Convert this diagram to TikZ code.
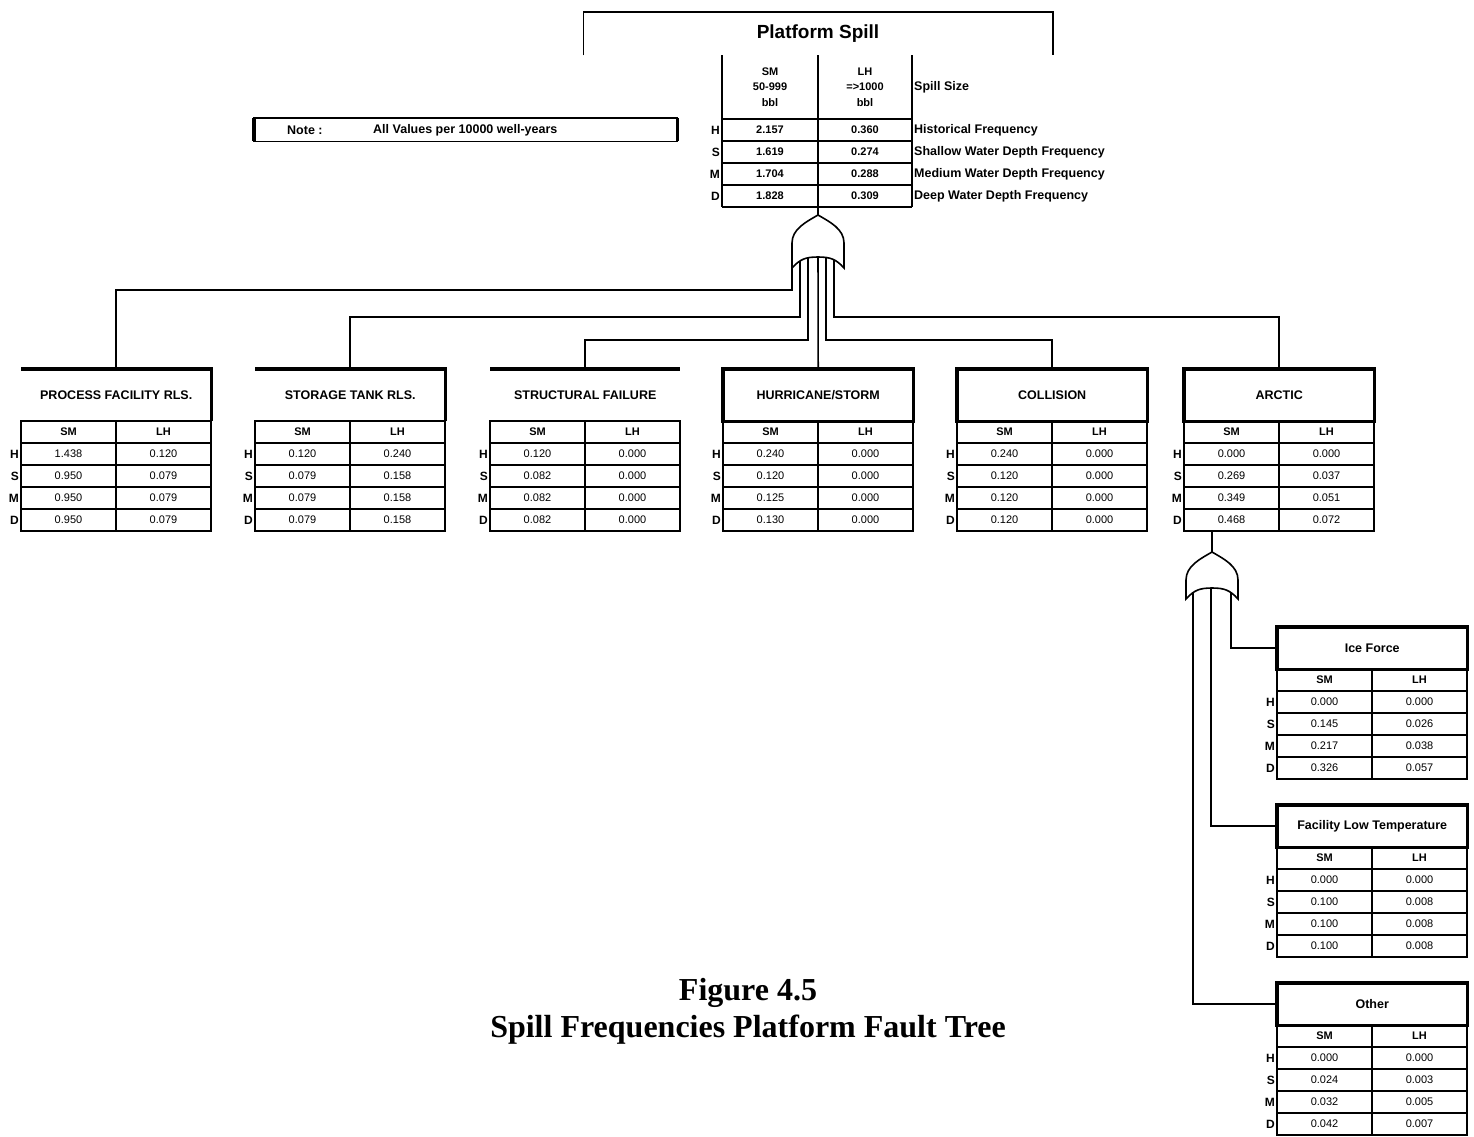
\documentclass[tikz,border=0pt]{standalone}
\usepackage{fontspec}
\setmainfont{Liberation Serif}
\setsansfont{Liberation Sans}
\usetikzlibrary{positioning}
\tikzset{
  wire/.style={line width=1.6pt},
  gridline/.style={line width=2.4pt},
  boxline/.style={line width=3.2pt},
  cellnum/.style={font=\sffamily\fontsize{11}{13}\selectfont, inner sep=0pt},
  cellhead/.style={font=\sffamily\bfseries\fontsize{11}{13}\selectfont, inner sep=0pt},
  rowlbl/.style={font=\sffamily\bfseries\fontsize{12}{14}\selectfont, inner sep=1pt, anchor=east},
  sidelbl/.style={font=\sffamily\bfseries\fontsize{12.5}{15}\selectfont, inner sep=1pt, anchor=west},
  evtitle/.style={
    font=\sffamily\bfseries\fontsize{12.5}{15}\selectfont,
    minimum width=190pt,
    minimum height=#1,
    inner sep=0pt,
    anchor=north west
  },
  evtitle/.default=52pt,
  roottitle/.style={
    font=\sffamily\bfseries\fontsize{19}{22}\selectfont,
    minimum width=469pt,
    minimum height=43pt,
    inner sep=0pt,
    anchor=north
  },
  caption/.style={font=\rmfamily\bfseries\fontsize{32}{37}\selectfont, align=center}
}
% frequency table: #1 name, #2 left x, #3 top y, #4 SM/LH pairs for H,S,M,D
\newcommand{\freqtable}[4]{
  \draw[gridline] (#2,#3) rectangle ++(190,110);
  \draw[gridline] (#2+95,#3) -- ++(0,110);
  \foreach \k in {1,...,4}
    \draw[gridline] (#2,#3+22*\k) -- ++(190,0);
  \node[cellhead] (#1-sm) at (#2+47.5,#3+11) {SM};
  \node[cellhead] (#1-lh) at (#2+142.5,#3+11) {LH};
  \foreach \lbl [count=\i] in {H,S,M,D}
    \node[rowlbl] (#1-\lbl) at (#2-1,#3+11+22*\i) {\lbl};
  \foreach \sm/\lh [count=\i] in {#4} {
    \node[cellnum] (#1-sm\i) at (#2+47.5,#3+11+22*\i) {\sm};
    \node[cellnum] (#1-lh\i) at (#2+142.5,#3+11+22*\i) {\lh};
  }
}
% OR gate: #1 name (top point), #2 top point, #3 side length
\newcommand{\orgate}[3]{
  \coordinate (#1) at (#2);
  \draw[wire, fill=white] (#1) .. controls +(-12,7) and +(0,-14) .. ++(-26,28)
    -- ++(0,#3) .. controls +(8,-9) and +(-12,0) .. ++(26,-11)
    .. controls +(12,0) and +(-8,-9) .. ++(26,11)
    -- ++(0,-#3) .. controls +(0,-14) and +(12,7) .. (#1) -- cycle;
}

\begin{document}
\begin{tikzpicture}[x=1pt,y=-1pt]
  \useasboundingbox (0,0) rectangle (1474,1136);

  % Top event
  \node[roottitle] (root) at (818,12) {Platform Spill};
  \draw[wire] (root.south west) -- (root.north west) -- (root.north east) -- (root.south east);
  \foreach \x in {722,818,912}
    \draw[gridline] (\x,55) -- (\x,207);
  \foreach \k in {0,...,4}
    \draw[gridline] (722,119+22*\k) -- (912,119+22*\k);
  \node[cellhead, align=center, font=\sffamily\bfseries\fontsize{11}{15.5}\selectfont]
    (root-sm) at (770,87) {SM\\50-999\\bbl};
  \node[cellhead, align=center, font=\sffamily\bfseries\fontsize{11}{15.5}\selectfont]
    (root-lh) at (865,87) {LH\\=>1000\\bbl};
  \node[sidelbl] (root-size) at (913,87) {Spill Size};
  \foreach \lbl/\sm/\lh/\txt [count=\i] in {
      H/2.157/0.360/Historical Frequency,
      S/1.619/0.274/Shallow Water Depth Frequency,
      M/1.704/0.288/Medium Water Depth Frequency,
      D/1.828/0.309/Deep Water Depth Frequency} {
    \node[rowlbl] (root-\lbl) at (721,108+22*\i) {\lbl};
    \node[cellhead] (root-sm\i) at (770,108+22*\i) {\sm};
    \node[cellhead] (root-lh\i) at (865,108+22*\i) {\lh};
    \node[sidelbl] (root-t\i) at (913,108+22*\i) {\txt};
  }
  \coordinate (root-out) at (818,207);

  % Note
  \node[minimum width=423pt, minimum height=23pt, inner sep=0pt, anchor=north west]
    (note) at (254,118) {};
  \draw[wire] (note.north west) rectangle (note.south east);
  \draw[boxline] (note.north west) -- (note.south west);
  \draw[boxline] (note.north east) -- (note.south east);
  \node[sidelbl] (note-l) at (286,130) {Note :};
  \node[sidelbl] (note-t) at (372,130) {All Values per 10000 well-years};

  % Events
  \node[evtitle] (proc) at (21,369) {PROCESS FACILITY RLS.};
  \draw[boxline] (proc.north west) -- (proc.north east) -- (proc.south east);
  \freqtable{proc}{21}{421}{1.438/0.120, 0.950/0.079, 0.950/0.079, 0.950/0.079}

  \node[evtitle] (sto) at (255,369) {STORAGE TANK RLS.};
  \draw[boxline] (sto.north west) -- (sto.north east) -- (sto.south east);
  \freqtable{sto}{255}{421}{0.120/0.240, 0.079/0.158, 0.079/0.158, 0.079/0.158}

  \node[evtitle] (str) at (490,369) {STRUCTURAL FAILURE};
  \draw[boxline] (str.north west) -- (str.north east);
  \freqtable{str}{490}{421}{0.120/0.000, 0.082/0.000, 0.082/0.000, 0.082/0.000}

  \node[evtitle] (hur) at (723,369) {HURRICANE/STORM};
  \draw[boxline] (hur.north west) rectangle (hur.south east);
  \freqtable{hur}{723}{421}{0.240/0.000, 0.120/0.000, 0.125/0.000, 0.130/0.000}

  \node[evtitle] (col) at (957,369) {COLLISION};
  \draw[boxline] (col.north west) rectangle (col.south east);
  \freqtable{col}{957}{421}{0.240/0.000, 0.120/0.000, 0.120/0.000, 0.120/0.000}

  \node[evtitle] (arc) at (1184,369) {ARCTIC};
  \draw[boxline] (arc.north west) rectangle (arc.south east);
  \freqtable{arc}{1184}{421}{0.000/0.000, 0.269/0.037, 0.349/0.051, 0.468/0.072}
  \coordinate (arc-out) at (1212,531);

  % Arctic causes
  \node[evtitle=42pt] (ice) at (1277,627) {Ice Force};
  \draw[boxline] (ice.north west) rectangle (ice.south east);
  \freqtable{ice}{1277}{669}{0.000/0.000, 0.145/0.026, 0.217/0.038, 0.326/0.057}

  \node[evtitle=42pt] (fac) at (1277,805) {Facility Low Temperature};
  \draw[boxline] (fac.north west) rectangle (fac.south east);
  \freqtable{fac}{1277}{847}{0.000/0.000, 0.100/0.008, 0.100/0.008, 0.100/0.008}

  \node[evtitle=42pt] (oth) at (1277,983) {Other};
  \draw[boxline] (oth.north west) rectangle (oth.south east);
  \freqtable{oth}{1277}{1025}{0.000/0.000, 0.024/0.003, 0.032/0.005, 0.042/0.007}

  % Gate inputs
  \coordinate (g-in1) at (792,250);
  \coordinate (g-in2) at (800,250);
  \coordinate (g-in3) at (808,250);
  \coordinate (g-in4) at (818,250);
  \coordinate (g-in5) at (826,250);
  \coordinate (g-in6) at (834,250);
  \draw[wire] (g-in1) -- ++(0,40) -| (proc.north);
  \draw[wire] (g-in2) -- ++(0,67) -| (sto.north);
  \draw[wire] (g-in3) -- ++(0,90) -| (str.north);
  \draw[wire] (g-in4) -- (hur.north);
  \draw[wire] (g-in5) -- ++(0,90) -| (col.north);
  \draw[wire] (g-in6) -- ++(0,67) -| (arc.north);

  \coordinate (a-in1) at (1193,585);
  \coordinate (a-in2) at (1211,585);
  \coordinate (a-in3) at (1231,585);
  \draw[wire] (a-in1) |- (oth.west);
  \draw[wire] (a-in2) |- (fac.west);
  \draw[wire] (a-in3) |- (ice.west);

  % Gates
  \orgate{gate}{818,215}{25}
  \draw[wire] (root-out) -- (gate);
  \orgate{agate}{1212,552}{19}
  \draw[wire] (arc-out) -- (agate);

  % Caption
  \node[caption] (cap) at (748,1011) {Figure 4.5\\Spill Frequencies Platform Fault Tree};
\end{tikzpicture}
\end{document}
